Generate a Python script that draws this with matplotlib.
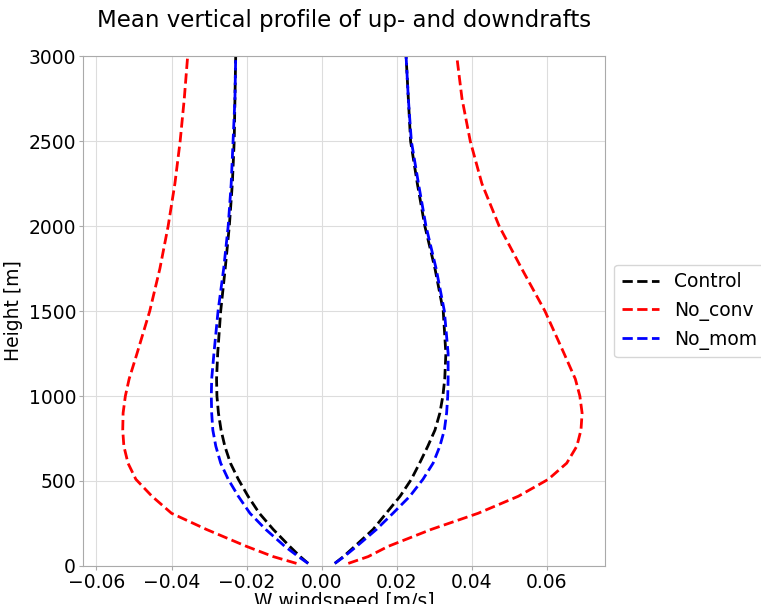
import numpy as np
import matplotlib
matplotlib.use('Agg')
from matplotlib import pyplot as plt

# alturas [m]
height = [15, 55, 115, 215, 310, 410, 510, 605, 705, 800, 900, 1000, 1100,
          1250, 1500, 1750, 2000, 2250, 2500, 2750, 3000]

# correntes ascendentes (up) e descendentes (down) [m/s]
control_up = [0.0035, 0.0058, 0.0088, 0.0137, 0.0172, 0.0209, 0.0239, 0.0261,
              0.0283, 0.0302, 0.0315, 0.0323, 0.0328, 0.0331, 0.0324, 0.0302,
              0.0275, 0.0255, 0.0237, 0.0231, 0.0225]
control_down = [-0.0036, -0.0057, -0.0085, -0.0129, -0.0166, -0.0196, -0.0222,
                -0.0243, -0.0258, -0.0268, -0.0275, -0.0279, -0.0280, -0.0277,
                -0.0269, -0.0257, -0.0246, -0.0238, -0.0233, -0.0231, -0.0229]

noconv_up = [0.0071, 0.0124, 0.0177, 0.0292, 0.0417, 0.0524, 0.0604, 0.0653,
             0.0680, 0.0691, 0.0694, 0.0688, 0.0676, 0.0646, 0.0595, 0.0533,
             0.0473, 0.0427, 0.0396, 0.0374, 0.0360]
noconv_down = [-0.0067, -0.0129, -0.0200, -0.0307, -0.0400, -0.0452, -0.0495,
               -0.0516, -0.0527, -0.0530, -0.0529, -0.0523, -0.0513, -0.0492,
               -0.0458, -0.0431, -0.0409, -0.0391, -0.0377, -0.0366, -0.0357]

nomom_up = [0.0035, 0.0060, 0.0093, 0.0146, 0.0190, 0.0235, 0.0270, 0.0297,
            0.0315, 0.0327, 0.0333, 0.0336, 0.0337, 0.0337, 0.0327, 0.0305,
            0.0278, 0.0258, 0.0239, 0.0231, 0.0225]
nomom_down = [-0.0036, -0.0062, -0.0098, -0.0149, -0.0191, -0.0222, -0.0249,
              -0.0269, -0.0282, -0.0290, -0.0293, -0.0294, -0.0293, -0.0287,
              -0.0276, -0.0261, -0.0249, -0.0241, -0.0236, -0.0231, -0.0229]

series = [('Control', 'black', control_up, control_down),
          ('No_conv', 'red', noconv_up, noconv_down),
          ('No_mom', 'blue', nomom_up, nomom_down)]

plt.rcParams['font.size'] = 13.5
fig = plt.figure(figsize=(7.61, 6.04), dpi=100)
ax = fig.add_axes([0.109, 0.063, 0.686, 0.844])

for nome, cor, up, down in series:
    ax.plot(up, height, '--', color=cor, lw=2, label=nome)
    ax.plot(down, height, '--', color=cor, lw=2)

ax.set_xlim(-0.0636, 0.0755)
ax.set_ylim(0, 3000)
ax.set_xticks(np.arange(-0.06, 0.061, 0.02))
ax.set_yticks(np.arange(0, 3001, 500))
ax.tick_params(length=3, width=0.8, color='#aaaaaa', pad=2, labelsize=13.5)
ax.grid(True, color='#dddddd', lw=0.8)
ax.set_axisbelow(True)
for s in ax.spines.values():
    s.set_color('#aaaaaa')

ax.set_xlabel('W windspeed [m/s]', fontsize=13.5, labelpad=0)
ax.set_ylabel('Height [m]', fontsize=13.5, labelpad=4)
ax.set_title('Mean vertical profile of up- and downdrafts', fontsize=16.5, pad=21)
ax.legend(loc='center left', bbox_to_anchor=(1.0, 0.5), fontsize=13.5)

fig.savefig('out.png')
